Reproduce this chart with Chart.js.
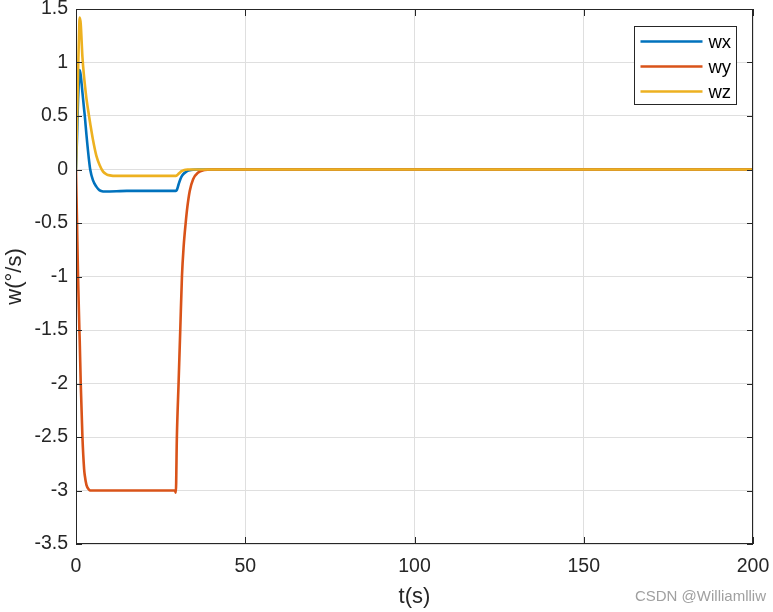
<!DOCTYPE html>
<html>
<head>
<meta charset="utf-8">
<script src="https://cdn.jsdelivr.net/npm/chart.js@4"></script>
<style>
  html, body { margin: 0; padding: 0; background: #fff; }
  #wrap { width: 773px; height: 612px; position: relative; }
</style>
</head>
<body>
<div id="wrap"><canvas id="w-chart"></canvas></div>
<script>
// time (s)
const tSec = [0, 0.3, 0.6, 1.0, 1.1, 1.4, 1.9, 2.4, 2.6, 3.1,
  3.8, 4.2, 5, 6, 7, 8, 9, 10, 12, 15,
  20, 25, 29.2, 29.5, 29.8, 30.3, 30.8, 31.3, 31.8, 32.4, 32.9,
  33.6, 34.6, 36, 38, 40, 50, 100, 150, 200];

const wx = [0, 0.3, 0.65, 0.9, 0.93, 0.88, 0.72, 0.56, 0.5, 0.32,
  0.1, 0.0, -0.1, -0.16, -0.195, -0.205, -0.206, -0.205, -0.203, -0.2,
  -0.2, -0.2, -0.2, -0.2, -0.19, -0.14, -0.093, -0.06, -0.04, -0.025, -0.015,
  -0.008, -0.003, 0, 0, 0, 0, 0, 0, 0];

const wy = [0, -0.5, -1.0, -1.5, -1.6, -2.0, -2.5, -2.8, -2.86, -2.95,
  -2.99, -3.0, -3.0, -3.0, -3.0, -3.0, -3.0, -3.0, -3.0, -3.0,
  -3.0, -3.0, -3.0, -3.02, -2.5, -2.0, -1.5, -1.0, -0.72, -0.5, -0.35,
  -0.2, -0.09, -0.03, -0.005, 0, 0, 0, 0, 0];

const wz = [0, 0.45, 0.9, 1.38, 1.42, 1.36, 1.05, 0.86, 0.8, 0.66,
  0.51, 0.43, 0.28, 0.13, 0.04, -0.02, -0.045, -0.055, -0.06, -0.06,
  -0.06, -0.06, -0.06, -0.06, -0.055, -0.04, -0.025, -0.013, -0.006, -0.002, 0,
  0, 0, 0, 0, 0, 0, 0, 0, 0];

const seriesNames = ['wx', 'wy', 'wz'];
const xTicks = [0, 50, 100, 150, 200];
const yTicks = [-3.5, -3, -2.5, -2, -1.5, -1, -0.5, 0, 0.5, 1, 1.5];

const FONT = '"Liberation Sans", Arial, sans-serif';
const colors = ['#0072BD', '#D95319', '#EDB120'];

const toPts = (vals) => vals.map((v, i) => ({ x: tSec[i], y: v }));

// box, inward ticks, legend, watermark (matlab look)
const frame = {
  id: 'frame',
  afterDatasetsDraw(chart) {
    const { ctx, chartArea: a, scales: { x, y } } = chart;
    ctx.save();
    ctx.strokeStyle = '#262626';
    ctx.lineWidth = 1;
    ctx.beginPath();
    xTicks.forEach((v) => {
      const px = Math.round(x.getPixelForValue(v)) + 0.5;
      ctx.moveTo(px, a.bottom); ctx.lineTo(px, a.bottom - 7);
      ctx.moveTo(px, a.top); ctx.lineTo(px, a.top + 7);
    });
    yTicks.forEach((v) => {
      const py = Math.round(y.getPixelForValue(v)) + 0.5;
      ctx.moveTo(a.left, py); ctx.lineTo(a.left + 6, py);
      ctx.moveTo(a.right, py); ctx.lineTo(a.right - 6, py);
    });
    ctx.stroke();
    ctx.strokeRect(a.left + 0.5, a.top + 0.5, a.width - 1, a.height - 1);

    // legend
    const lx = 634.5, ly = 26.5, lw = 102, lh = 78;
    ctx.fillStyle = '#fff';
    ctx.fillRect(lx, ly, lw, lh);
    ctx.strokeRect(lx, ly, lw, lh);
    ctx.font = '18.5px ' + FONT;
    ctx.textBaseline = 'middle';
    chart.data.datasets.forEach((ds, i) => {
      const ry = ly + 15 + i * 25;
      ctx.strokeStyle = ds.borderColor;
      ctx.lineWidth = 2.5;
      ctx.beginPath();
      ctx.moveTo(lx + 6, ry); ctx.lineTo(lx + 68, ry);
      ctx.stroke();
      ctx.fillStyle = '#000';
      ctx.fillText(ds.label, lx + 74, ry + 1);
    });
    ctx.restore();
  },
  afterDraw(chart) {
    const { ctx } = chart;
    ctx.save();
    ctx.font = '15px ' + FONT;
    ctx.fillStyle = '#a0a0a0';
    ctx.textAlign = 'right';
    ctx.textBaseline = 'middle';
    ctx.fillText('CSDN @Williamlliw', 766, 597);
    ctx.restore();
  }
};

const ctx = document.getElementById('w-chart');
new Chart(ctx, {
  type: 'line',
  data: {
    datasets: [wx, wy, wz].map((vals, i) => ({
      label: seriesNames[i],
      data: toPts(vals),
      borderColor: colors[i],
      backgroundColor: colors[i],
      borderWidth: 2.6,
      pointRadius: 0,
      cubicInterpolationMode: 'monotone',
      borderJoinStyle: 'round',
      order: 2 - i,
    })),
  },
  options: {
    responsive: true,
    maintainAspectRatio: false,
    animation: false,
    layout: { padding: { top: 9, right: 20, left: 0, bottom: 0 } },
    plugins: { legend: { display: false }, tooltip: { enabled: false } },
    scales: {
      x: {
        type: 'linear',
        min: 0,
        max: 200,
        afterBuildTicks: (axis) => { axis.ticks = xTicks.map((v) => ({ value: v })); },
        afterFit: (axis) => {
          axis.height = 68;
          axis.paddingLeft = 0; axis.paddingRight = 0;
        },
        grid: { color: '#dfdfdf', drawTicks: false },
        border: { display: false },
        ticks: { color: '#262626', padding: 11, maxRotation: 0, font: { family: FONT, size: 19.5 }, callback: (v) => String(v) },
        title: { display: true, text: 't(s)', color: '#262626', font: { family: FONT, size: 22 }, padding: { top: 0, bottom: 2 } },
      },
      y: {
        type: 'linear',
        min: -3.5,
        max: 1.5,
        afterBuildTicks: (axis) => { axis.ticks = yTicks.map((v) => ({ value: v })); },
        afterFit: (axis) => {
          axis.width = 76;
          axis.paddingTop = 0; axis.paddingBottom = 0;
        },
        grid: { color: '#dfdfdf', drawTicks: false },
        border: { display: false },
        ticks: { color: '#262626', padding: 8, font: { family: FONT, size: 19.5 }, callback: (v) => String(v) },
        title: { display: true, text: 'w(°/s)', color: '#262626', font: { family: FONT, size: 22 }, padding: { top: 2, bottom: 0 } },
      },
    },
  },
  plugins: [frame],
});
</script>
</body>
</html>
